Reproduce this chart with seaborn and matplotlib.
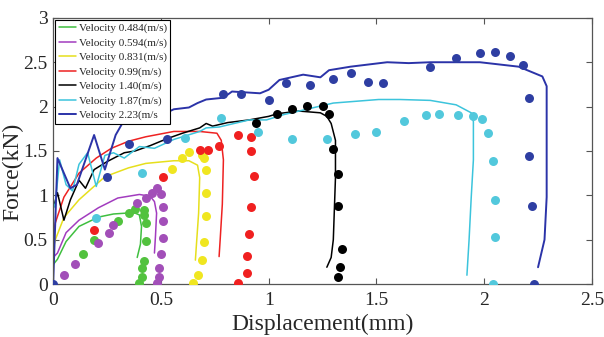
import numpy as np
import pandas as pd
import seaborn as sns
import matplotlib.pyplot as plt

# Velocity labels and colours
labels = ['Velocity 0.484(m/s)', 'Velocity 0.594(m/s)', 'Velocity 0.831(m/s)',
          'Velocity 0.99(m/s)', 'Velocity 1.40(m/s)', 'Velocity 1.87(m/s)',
          'Velocity 2.23(m/s']
line_colors = ['#3fbf3f', '#a23cbf', '#e6df1c', '#ee2222', '#000000', '#3cc4dc', '#2b33a8']
dot_colors = ['#52c23e', '#a24fb8', '#f0e620', '#f02020', '#000000', '#52c8dc', '#2e3ea2']

# Simulation curves (lines)
v484_x = [0.0, 0.02, 0.06, 0.12, 0.18, 0.22, 0.28, 0.34, 0.38, 0.40, 0.41, 0.405, 0.39]
v484_y = [0.22, 0.28, 0.48, 0.65, 0.72, 0.76, 0.79, 0.80, 0.80, 0.78, 0.65, 0.45, 0.30]

v594_x = [0.0, 0.02, 0.06, 0.12, 0.21, 0.30, 0.40, 0.45, 0.47, 0.48, 0.475, 0.47]
v594_y = [0.30, 0.35, 0.58, 0.72, 0.86, 0.97, 1.01, 0.99, 0.93, 0.80, 0.55, 0.35]

v831_x = [0.0, 0.01, 0.05, 0.12, 0.24, 0.35, 0.43, 0.56, 0.63, 0.67, 0.68, 0.675, 0.665, 0.66]
v831_y = [0.40, 0.50, 0.75, 0.95, 1.21, 1.31, 1.36, 1.39, 1.39, 1.34, 1.20, 0.80, 0.45, 0.27]

v99_x = [0.0, 0.01, 0.05, 0.12, 0.20, 0.27, 0.35, 0.43, 0.56, 0.68, 0.76, 0.78, 0.79, 0.785, 0.775, 0.77]
v99_y = [0.55, 0.69, 0.98, 1.25, 1.42, 1.53, 1.61, 1.66, 1.72, 1.72, 1.70, 1.62, 1.40, 0.90, 0.50, 0.31]

v140_x = [0.0, 0.02, 0.05, 0.08, 0.12, 0.15, 0.19, 0.25, 0.33, 0.38, 0.45, 0.53, 0.60, 0.68, 0.71,
          0.74, 0.81, 0.91, 1.0, 1.04, 1.14, 1.24, 1.27, 1.29, 1.31, 1.31, 1.30, 1.29, 1.27]
v140_y = [0.85, 1.03, 0.72, 0.95, 1.17, 1.08, 1.29, 1.38, 1.48, 1.50, 1.56, 1.64, 1.70, 1.76, 1.81,
          1.78, 1.82, 1.85, 1.89, 1.92, 1.95, 1.93, 1.89, 1.81, 1.62, 1.20, 0.50, 0.30, 0.19]

v187_x = [0.0, 0.01, 0.03, 0.06, 0.09, 0.12, 0.16, 0.20, 0.24, 0.28, 0.33, 0.40, 0.47, 0.56, 0.68, 0.71,
          0.77, 0.91, 0.99, 1.07, 1.30, 1.51, 1.61, 1.75, 1.87, 1.94, 1.95, 1.95, 1.94, 1.93, 1.92]
v187_y = [0.85, 0.91, 1.40, 1.12, 1.05, 1.35, 1.48, 1.10, 1.45, 1.48, 1.42, 1.55, 1.53, 1.63, 1.72, 1.76,
          1.77, 1.85, 1.85, 1.91, 2.04, 2.08, 2.08, 2.07, 2.02, 1.93, 1.83, 1.40, 0.98, 0.50, 0.10]

v223_x = [0.0, 0.02, 0.08, 0.11, 0.19, 0.24, 0.29, 0.33, 0.40, 0.48, 0.56, 0.63, 0.67, 0.71, 0.79, 0.83,
          0.96, 1.0, 1.05, 1.16, 1.24, 1.28, 1.38, 1.55, 1.65, 1.75, 1.98, 2.16, 2.27, 2.29, 2.29, 2.28, 2.25]
v223_y = [0.0, 1.42, 1.08, 1.12, 1.68, 1.29, 1.68, 1.85, 1.87, 1.88, 1.97, 1.99, 2.04, 2.08, 2.10, 2.17,
          2.15, 2.19, 2.30, 2.36, 2.33, 2.41, 2.45, 2.50, 2.49, 2.50, 2.50, 2.45, 2.34, 2.23, 0.98, 0.50, 0.19]

# Experimental points (dots)
e484_x = [0.14, 0.19, 0.30, 0.35, 0.38, 0.42, 0.42, 0.43, 0.43, 0.42, 0.41, 0.41, 0.40]
e484_y = [0.34, 0.50, 0.71, 0.80, 0.85, 0.83, 0.78, 0.69, 0.48, 0.26, 0.18, 0.08, 0.01]

e594_x = [0.05, 0.10, 0.21, 0.26, 0.28, 0.39, 0.43, 0.46, 0.48, 0.50, 0.51, 0.51, 0.51, 0.50, 0.49, 0.49, 0.48]
e594_y = [0.10, 0.23, 0.46, 0.58, 0.67, 0.91, 0.97, 1.03, 1.08, 1.02, 0.87, 0.71, 0.52, 0.34, 0.18, 0.08, 0.01]

e831_x = [0.55, 0.60, 0.63, 0.69, 0.70, 0.71, 0.71, 0.71, 0.70, 0.69, 0.67, 0.65]
e831_y = [1.30, 1.42, 1.49, 1.46, 1.42, 1.29, 1.03, 0.77, 0.47, 0.27, 0.10, 0.01]

e99_x = [0.19, 0.51, 0.68, 0.72, 0.77, 0.86, 0.92, 0.92, 0.93, 0.92, 0.91, 0.90, 0.90, 0.86]
e99_y = [0.61, 1.21, 1.51, 1.51, 1.56, 1.68, 1.66, 1.50, 1.22, 0.87, 0.57, 0.32, 0.13, 0.01]

e140_x = [0.94, 1.04, 1.11, 1.18, 1.25, 1.28, 1.30, 1.32, 1.32, 1.34, 1.33, 1.32]
e140_y = [1.81, 1.92, 1.97, 2.01, 2.01, 1.92, 1.52, 1.24, 0.88, 0.40, 0.19, 0.08]

e187_x = [0.20, 0.41, 0.61, 0.78, 0.95, 1.11, 1.27, 1.40, 1.50, 1.63, 1.73, 1.79, 1.88, 1.95,
          1.99, 2.02, 2.04, 2.05, 2.05, 2.04]
e187_y = [0.74, 1.25, 1.65, 1.87, 1.71, 1.63, 1.63, 1.69, 1.71, 1.84, 1.91, 1.92, 1.91, 1.89,
          1.86, 1.70, 1.39, 0.95, 0.53, 0.0]

e223_x = [0.0, 0.25, 0.35, 0.53, 0.79, 0.87, 1.0, 1.08, 1.19, 1.30, 1.38, 1.46, 1.53, 1.75, 1.87,
          1.98, 2.05, 2.12, 2.18, 2.21, 2.21, 2.22, 2.23]
e223_y = [0.0, 1.21, 1.58, 1.64, 2.14, 2.14, 2.08, 2.27, 2.24, 2.31, 2.38, 2.28, 2.27, 2.45, 2.55,
          2.60, 2.62, 2.57, 2.47, 2.10, 1.44, 0.88, 0.0]

lines = [(v484_x, v484_y), (v594_x, v594_y), (v831_x, v831_y), (v99_x, v99_y),
         (v140_x, v140_y), (v187_x, v187_y), (v223_x, v223_y)]
dots = [(e484_x, e484_y), (e594_x, e594_y), (e831_x, e831_y), (e99_x, e99_y),
        (e140_x, e140_y), (e187_x, e187_y), (e223_x, e223_y)]

sns.set_style('ticks')
plt.rcParams['font.family'] = ['Liberation Serif', 'DejaVu Serif']

fig = plt.figure(figsize=(6.04, 3.37), dpi=100)
ax = fig.add_axes([0.088, 0.157, 0.892, 0.79])

for (lx, ly), lab, c in zip(lines, labels, line_colors):
    df = pd.DataFrame({'x': lx, 'y': ly})
    lw = 1.4 if c == '#2b33a8' else 1.1
    sns.lineplot(data=df, x='x', y='y', sort=False, estimator=None,
                 color=c, linewidth=lw, label=lab, ax=ax)

for (dx, dy), c in zip(dots, dot_colors):
    df = pd.DataFrame({'x': dx, 'y': dy})
    sns.scatterplot(data=df, x='x', y='y', color=c, s=42, linewidth=0,
                    ax=ax, zorder=3, legend=False)

ax.set_xlim(0, 2.5)
ax.set_ylim(0, 3)
ax.set_xticks([0, 0.5, 1, 1.5, 2, 2.5])
ax.set_xticklabels(['0', '0.5', '1', '1.5', '2', '2.5'])
ax.set_yticks([0, 0.5, 1, 1.5, 2, 2.5, 3])
ax.set_yticklabels(['0', '0.5', '1', '1.5', '2', '2.5', '3'])
ax.tick_params(direction='in', top=True, right=True, labelsize=14,
               length=4, width=0.8, color='#555555')
ax.tick_params(axis='x', pad=6)
ax.tick_params(axis='y', pad=4)
for sp in ax.spines.values():
    sp.set_color('#555555')
    sp.set_linewidth(0.9)

ax.set_xlabel('Displacement(mm)', fontsize=17)
ax.set_ylabel('Force(kN)', fontsize=17)
ax.xaxis.set_label_coords(0.5, -0.112)
ax.yaxis.set_label_coords(-0.056, 0.42)

leg = ax.legend(loc='upper left', fontsize=8, frameon=True, fancybox=False,
                edgecolor='black', framealpha=1, handlelength=1.6,
                handletextpad=0.2, labelspacing=0.4, borderpad=0.3,
                borderaxespad=0.2)
leg.get_frame().set_linewidth(0.8)

fig.savefig('out.png', dpi=100)
